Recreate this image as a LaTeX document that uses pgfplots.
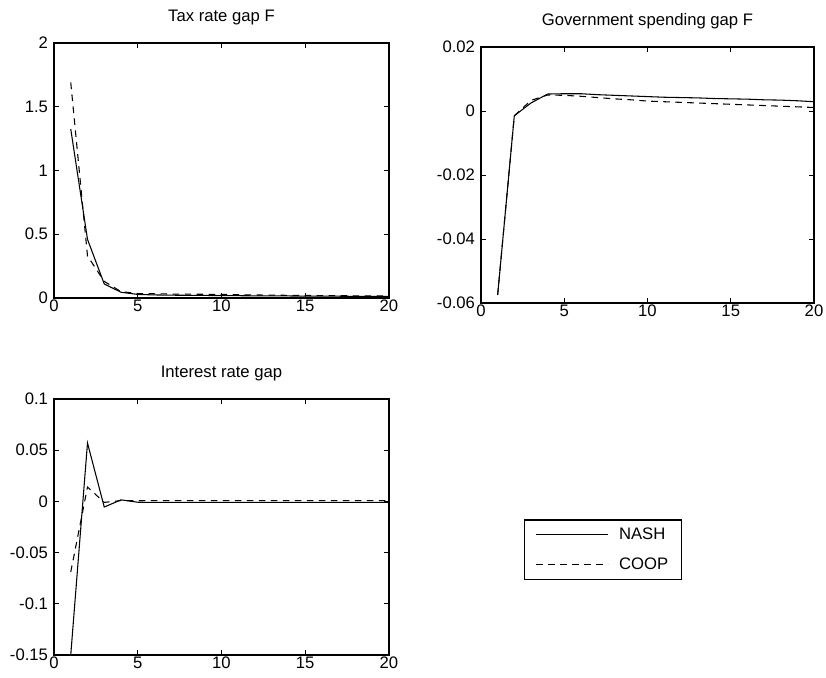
\documentclass[border=0pt]{standalone}
\usepackage{fontspec}
\setmainfont{Liberation Sans}
\usepackage{pgfplots}
\pgfplotsset{compat=1.18}

\pgfplotsset{
  irf/.style={
    scale only axis,
    anchor=south west,
    xmin=0, xmax=20,
    xtick={0,5,10,15,20},
    xticklabels={0,5,10,15,20},
    scaled y ticks=false,
    tick align=inside,
    xtick pos=both, ytick pos=both,
    major tick length=3.5pt,
    axis line style={line width=1.1pt},
    every tick/.style={line width=0.6pt, black},
    tick label style={font=\fontsize{12.5}{14}\selectfont},
    title style={font=\fontsize{12.5}{14}\selectfont, yshift=4pt},
    xticklabel style={yshift=2pt},
    yticklabel style={xshift=-1pt},
    clip=true,
  },
  nash/.style={black, line width=0.8pt, no markers},
  coop/.style={black, line width=0.8pt, dash pattern=on 5pt off 4pt, no markers},
}

\begin{document}
\begin{tikzpicture}
\useasboundingbox (0pt,0pt) rectangle (619.5pt,508.5pt);

% Tax rate gap F
\begin{axis}[irf, at={(40.5pt,285pt)}, width=251.25pt, height=191.25pt,
  title={Tax rate gap F},
  ymin=0, ymax=2,
  ytick={0,0.5,1,1.5,2}, yticklabels={0,0.5,1,1.5,2}]
\addplot[coop] coordinates {
 (1,1.69) (2,0.33) (3,0.13) (4,0.05) (5,0.035) (6,0.033) (7,0.031) (8,0.030)
 (9,0.029) (10,0.028) (11,0.026) (12,0.024) (13,0.022) (14,0.021) (15,0.020)
 (16,0.019) (17,0.018) (18,0.017) (19,0.016) (20,0.015)};
\addplot[nash] coordinates {
 (1,1.325) (2,0.46) (3,0.11) (4,0.045) (5,0.028) (6,0.024) (7,0.022) (8,0.021)
 (9,0.020) (10,0.019) (11,0.018) (12,0.017) (13,0.016) (14,0.016) (15,0.015)
 (16,0.014) (17,0.014) (18,0.013) (19,0.013) (20,0.012)};
\end{axis}

% Government spending gap F
\begin{axis}[irf, at={(360.75pt,281.25pt)}, width=249.75pt, height=192pt,
  title={Government spending gap F},
  ymin=-0.06, ymax=0.02,
  ytick={-0.06,-0.04,-0.02,0,0.02}, yticklabels={-0.06,-0.04,-0.02,0,0.02}]
\addplot[coop] coordinates {
 (1,-0.0575) (2,-0.0015) (3,0.0033) (4,0.0050) (5,0.0049) (6,0.0046) (7,0.0042)
 (8,0.0038) (9,0.0035) (10,0.0031) (11,0.0029) (12,0.0027) (13,0.0025) (14,0.0023)
 (15,0.0021) (16,0.0019) (17,0.0017) (18,0.0015) (19,0.0013) (20,0.0011)};
\addplot[nash] coordinates {
 (1,-0.0575) (2,-0.0015) (3,0.0025) (4,0.0053) (5,0.0054) (6,0.0054) (7,0.0051)
 (8,0.0049) (9,0.0047) (10,0.0045) (11,0.0043) (12,0.0042) (13,0.0041) (14,0.0039)
 (15,0.0038) (16,0.0037) (17,0.0035) (18,0.0034) (19,0.0032) (20,0.0029)};
\end{axis}

% Interest rate gap, with the shared legend
\begin{axis}[irf, at={(40.5pt,17.25pt)}, width=251.25pt, height=192pt,
  title={Interest rate gap},
  ymin=-0.15, ymax=0.1,
  ytick={-0.15,-0.1,-0.05,0,0.05,0.1}, yticklabels={-0.15,-0.1,-0.05,0,0.05,0.1},
  legend style={at={(1.403,0.293)}, anchor=south west,
    draw=black, line width=1pt, fill=white,
    font=\fontsize{12.5}{14}\selectfont,
    inner xsep=8pt, inner ysep=4pt,
    row sep=8pt,
    /tikz/every odd column/.append style={column sep=6pt}},
  legend cell align=left,
  legend image code/.code={\draw[#1, line width=0.8pt] (0pt,0pt) -- (54pt,0pt);}]
\addplot[nash] coordinates {
 (1,-0.15) (2,0.057) (3,-0.0055) (4,0.0015) (5,-0.0008) (6,-0.001) (7,-0.001)
 (8,-0.001) (9,-0.001) (10,-0.001) (11,-0.001) (12,-0.001) (13,-0.001) (14,-0.001)
 (15,-0.001) (16,-0.001) (17,-0.001) (18,-0.001) (19,-0.001) (20,-0.001)};
\addlegendentry{NASH}
\addplot[coop] coordinates {
 (1,-0.069) (2,0.014) (3,-0.001) (4,0.0008) (5,0.0008) (6,0.0008) (7,0.0008)
 (8,0.0008) (9,0.0008) (10,0.0008) (11,0.0008) (12,0.0008) (13,0.0008) (14,0.0008)
 (15,0.0008) (16,0.0008) (17,0.0008) (18,0.0008) (19,0.0008) (20,0.0008)};
\addlegendentry{COOP}
\end{axis}
\end{tikzpicture}
\end{document}
